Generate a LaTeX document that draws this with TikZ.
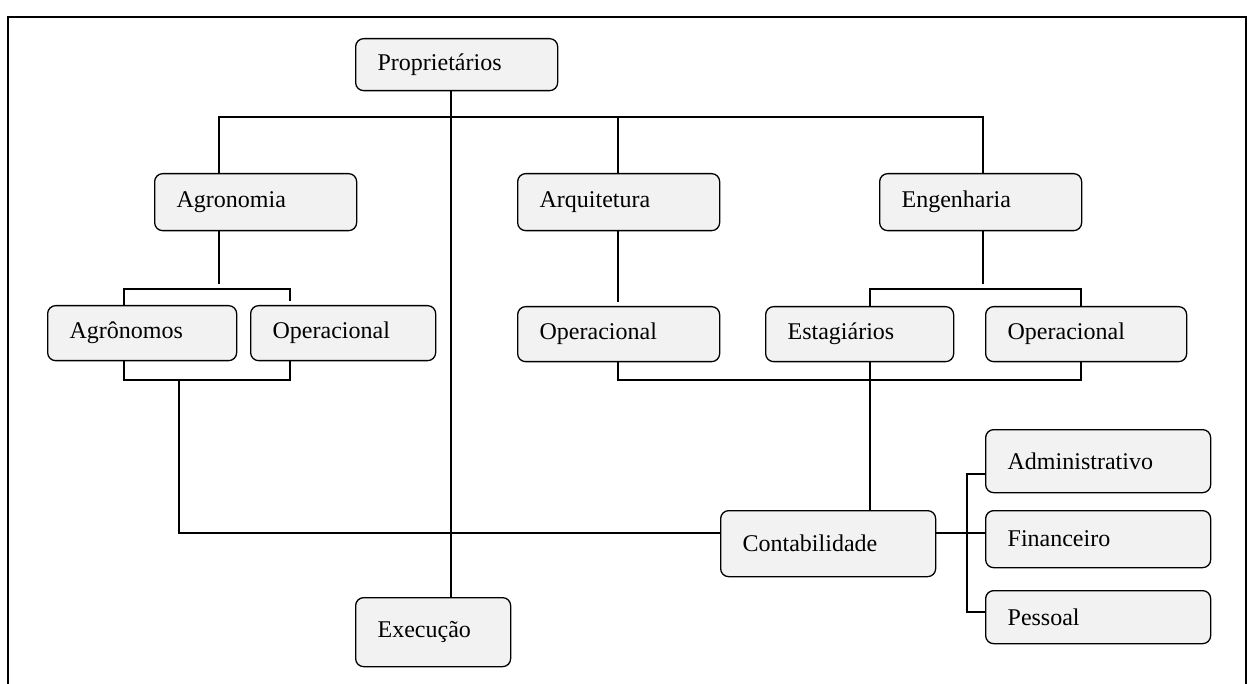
\documentclass[tikz,border=0pt]{standalone}
\usepackage{fontspec}
\setmainfont{Liberation Serif}
\definecolor{boxfill}{HTML}{F2F2F2}
\tikzset{
  box/.style={draw, line width=1.3pt, rounded corners=8pt, fill=boxfill, anchor=north west,
    align=left, inner xsep=22pt, inner ysep=0pt, font=\fontsize{24}{28}\selectfont},
  link/.style={line width=1.5pt},
}
\begin{document}
\begin{tikzpicture}[x=1pt, y=-1pt]
    \useasboundingbox (0,0) rectangle (1253,684);
    % frame
    \draw[line width=2.4pt] (8,684) -- (8,17) -- (1246,17) -- (1246,684);

    % boxes
    \node[box, text width=158pt, minimum height=52pt] (prop) at (355,38) {Proprietários};
    \node[box, text width=158pt, minimum height=57pt] (agro) at (154,173) {Agronomia};
    \node[box, text width=158pt, minimum height=57pt] (arq) at (517,173) {Arquitetura};
    \node[box, text width=158pt, minimum height=57pt] (eng) at (879,173) {Engenharia};
    \node[box, text width=145pt, minimum height=55pt] (agrn) at (47,305) {Agrônomos};
    \node[box, text width=141pt, minimum height=55pt] (opa) at (250,305) {Operacional};
    \node[box, text width=158pt, minimum height=55pt] (opq) at (517,306) {Operacional};
    \node[box, text width=144pt, minimum height=55pt] (est) at (765,306) {Estagiários};
    \node[box, text width=157pt, minimum height=55pt] (ope) at (985,306) {Operacional};
    \node[box, text width=171pt, minimum height=66pt] (cont) at (720,510) {Contabilidade};
    \node[box, text width=181pt, minimum height=63pt] (adm) at (985,429) {Administrativo};
    \node[box, text width=181pt, minimum height=57pt] (fin) at (985,510) {Financeiro};
    \node[box, text width=181pt, minimum height=53pt] (pes) at (985,590) {Pessoal};
    \node[box, text width=111pt, minimum height=69pt] (exec) at (355,597) {Execução};

    % junction points
    \coordinate (trunk) at (451,117);
    \coordinate (ja) at (219,117);
    \coordinate (jq) at (618,117);
    \coordinate (je) at (983,117);
    \coordinate (ba) at (124,289);
    \coordinate (bb) at (290,289);
    \coordinate (be) at (870,289);
    \coordinate (bf) at (1081,289);
    \coordinate (ca) at (124,380);
    \coordinate (cb) at (290,380);
    \coordinate (cq) at (618,380);
    \coordinate (cf) at (1081,380);
    \coordinate (da) at (179,380);
    \coordinate (dc) at (179,533);
    \coordinate (rt) at (967,474);
    \coordinate (rb) at (967,612);

    % connectors
    \draw[link] (prop.south -| trunk) -- (exec.north -| trunk);
    \draw[link] (ja |- agro.north) -- (ja) -- (je) -- (je |- eng.north);
    \draw[link] (jq) -- (jq |- arq.north);
    \draw[link] (ja |- agro.south) -- ++(0,53);
    \draw[link] (jq |- arq.south) -- ++(0,71);
    \draw[link] (je |- eng.south) -- ++(0,53);
    \draw[link] (ba |- agrn.north) -- (ba) -- (bb) -- ++(0,12);
    \draw[link] (be |- est.north) -- (be) -- (bf) -- (bf |- ope.north);
    \draw[link] (ca |- agrn.south) -- (ca) -- (cb) -- (cb |- opa.south);
    \draw[link] (cq |- opq.south) -- (cq) -- (cf) -- (cf |- ope.south);
    \draw[link] (be |- est.south) -- (be |- cont.north);
    \draw[link] (da) -- (dc) -- (dc -| cont.west);
    \draw[link] (cont.east |- dc) -- (fin.west |- dc);
    \draw[link] (rt -| adm.west) -- (rt) -- (rb) -- (rb -| pes.west);
\end{tikzpicture}
\end{document}
